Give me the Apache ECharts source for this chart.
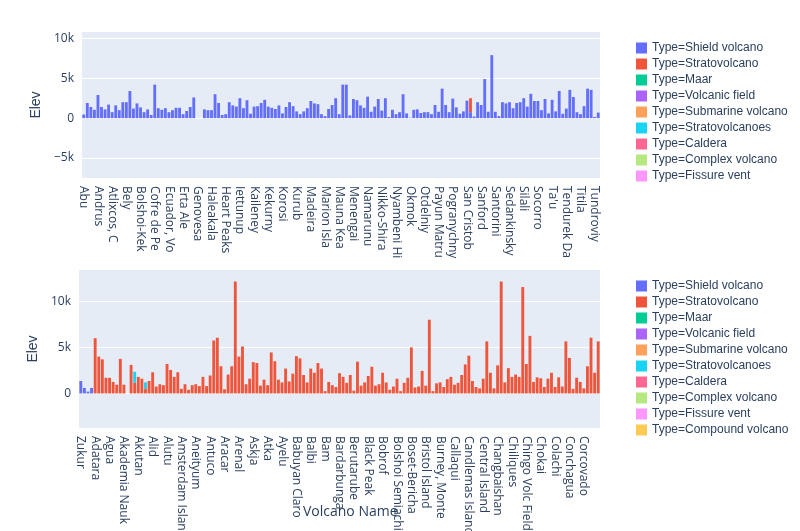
<!DOCTYPE html>
<html><head><meta charset="utf-8">
<script src="https://cdn.jsdelivr.net/npm/echarts@6/dist/echarts.min.js"></script>
<style>html,body{margin:0;padding:0;background:#fff}#c{width:800px;height:531px}</style>
</head><body><div id="c"></div>
<script>
const topLabels = ["Abu","Andrus","Atlixcos, Cerro","Bely","Bolshoi-Kekuknaisky","Cofre de Perote","Ecuador, Volcan","Erta Ale","Genovesa","Haleakala","Heart Peaks","Iettunup","Kaileney","Kekurny","Korosi","Kurub","Madeira","Marion Island","Mauna Kea","Menengai","Namarunu","Nikko-Shirane","Nyambeni Hills","Okmok","Otdelniy","Payun Matru","Pogranychny","San Cristobal","Sanford","Santorini","Sedankinsky","Silali","Socorro","Ta'u","Tendurek Dagi","Titila","Tundroviy"];
const bottomLabels = ["Zukur","Adatara","Agua","Akademia Nauk","Akutan","Alid","Alutu","Amsterdam Island","Aneityum","Antuco","Aracar","Arenal","Askja","Atka","Ayelu","Babuyan Claro","Balbi","Bam","Bardarbunga","Berutarube","Black Peak","Bobrof","Bolshoi Semiachik","Boset-Bericha","Bristol Island","Burney, Monte","Callaqui","Candlemas Island","Central Island","Changbaishan","Chiliques","Chingo Volc Field","Chokai","Colachi","Conchagua","Corcovado"];
const types = ["Shield volcano","Stratovolcano","Maar","Volcanic field","Submarine volcano","Stratovolcanoes","Caldera","Complex volcano","Fissure vent","Compound volcano"];
const colors = ["#636efa","#EF553B","#00cc96","#ab63fa","#FFA15A","#19d3f3","#FF6692","#B6E880","#FF97FF","#FECB52"];
const yTicks = [-5000,0,5000,10000];
const topShield = [450,1900,1400,1050,2900,1400,1100,1700,750,1600,1000,2000,2000,3400,1200,1850,1350,750,1100,400,4200,1250,1050,1250,750,1000,1300,1300,500,900,1400,2600,0,0,1100,1000,1000,3000,1900,400,500,2000,1600,1450,2500,1250,2250,550,1450,1500,1900,2300,1450,1300,1150,1600,600,1400,2000,1500,850,500,850,1250,2150,1850,1750,500,250,1150,1650,2500,500,4200,4200,350,2400,2250,1600,1300,2700,800,1450,2400,950,2500,150,1050,500,750,3000,600,50,1050,1100,650,750,750,500,1650,800,3700,1650,750,2450,1350,550,850,2200,750,200,2000,1650,4900,800,7900,800,250,2000,1850,2000,1250,1900,2000,2500,1450,3050,2150,2150,1000,2400,600,2300,850,3400,550,1200,3550,2650,750,500,1500,3700,3550,150,700];
const topStrato = [[109,1750]];
const bottomShield = [1350,600,200,600];
const bottomStrato = [0,0,0,0,6000,4000,3700,1700,1700,1250,950,3750,950,0,3100,1150,1800,1600,500,1350,2300,750,1000,900,3200,2550,1800,2300,500,1000,400,900,1000,800,1800,800,1950,5750,6050,2950,450,2050,2950,12150,4000,5100,1000,1600,3400,3300,850,1500,900,4450,3500,1500,1200,2700,1300,2150,4050,3800,2000,1200,2700,2250,3300,2700,250,1250,900,700,2200,1800,1150,2000,300,3450,850,1200,1900,2900,850,1000,2250,1200,400,750,1600,250,1150,1700,5000,650,750,2450,850,8000,250,1100,1200,700,1550,1800,950,1150,2000,3150,4100,1350,700,550,1600,5650,2250,550,3050,12150,1200,2750,1800,2050,1800,11550,3200,6250,1250,1750,1650,700,1600,2250,700,1750,750,5650,3850,500,1700,1250,550,2950,6050,2250,5650];
const bottomStratovolcanoes = [[15,1200],[18,700]];

function cats(labels, n){const out=[];for(let i=0;i<n;i++){const b=labels[Math.floor(i/4)];out.push(i%4===0&&b!==undefined?b:'\u200b'.repeat(i+1));}return out;}
const topCats = cats(topLabels, topShield.length);
const botCats = cats(bottomLabels, bottomStrato.length);
function sparse(pairs,n){const a=new Array(n).fill(0);pairs.forEach(p=>a[p[0]]=p[1]);return a;}
const n1=topShield.length, n2=bottomStrato.length;
const topSeriesData = {0: topShield, 1: sparse(topStrato,n1)};
const botSeriesData = {0: bottomShield.concat(new Array(n2-bottomShield.length).fill(0)), 1: bottomStrato, 5: sparse(bottomStratovolcanoes,n2)};

const series=[];
function addSeries(dataMap,nTypes,gi){
  series.push({type:'line',xAxisIndex:gi,yAxisIndex:gi,data:[],z:1,silent:true,
    markLine:{silent:true,symbol:'none',label:{show:false},lineStyle:{color:'#fff',width:1,type:'solid'},
      data:yTicks.map(v=>({yAxis:v}))}});
  for(let t=0;t<nTypes;t++){
    series.push({type:'bar',name:'Type='+types[t]+(gi?'\u200b':''),xAxisIndex:gi,yAxisIndex:gi,stack:'s'+gi,barCategoryGap:'20%',z:5,
      itemStyle:{color:colors[t]},data:dataMap[t]||[]});
  }
}
addSeries(topSeriesData,9,0);
addSeries(botSeriesData,10,1);

const axisLabel={color:'#2a3f5f',fontSize:12,fontFamily:'Open Sans, Arial',rotate:-90,interval:3};
const yLab={color:'#2a3f5f',fontSize:12,fontFamily:'Open Sans, Arial',
  formatter:v=>(v%5000!==0)?'':(v===0?'0':(v<0?'−':'')+Math.abs(v/1000)+'k')};
const chart=echarts.init(document.getElementById('c'));
chart.setOption({
  animation:false,
  title:{text:'Volcano Name',left:298,top:500,textStyle:{color:'#2a3f5f',fontSize:14,fontWeight:'normal',fontFamily:'Open Sans, Arial'},z:10},
  grid:[{left:82,right:200,top:32,height:146,backgroundColor:'#E5ECF6',show:true,borderWidth:0,outerBoundsMode:'none'},
        {left:79,right:200,top:270,height:158,backgroundColor:'#E5ECF6',show:true,borderWidth:0,outerBoundsMode:'none'}],
  xAxis:[{type:'category',gridIndex:0,data:topCats,axisLine:{show:false},axisTick:{show:false},axisLabel:{...axisLabel,formatter:v=>v.slice(0,11)}},
         {type:'category',gridIndex:1,data:botCats,axisLine:{show:false},axisTick:{show:false},axisLabel:{...axisLabel}}],
  yAxis:[{type:'value',gridIndex:0,min:-7500,max:10800,interval:2500,axisLabel:{...yLab,showMaxLabel:false},
          splitLine:{show:false},name:'Elev',nameLocation:'middle',nameGap:26,nameTextStyle:{color:'#2a3f5f',fontSize:14}},
         {type:'value',gridIndex:1,min:-3750,max:13400,interval:1250,axisLabel:{...yLab,showMaxLabel:false},
          splitLine:{show:false},name:'Elev',nameLocation:'middle',nameGap:26,nameTextStyle:{color:'#2a3f5f',fontSize:14}}],
  legend:[{orient:'vertical',left:631,top:37,itemGap:4,itemWidth:11,itemHeight:11,icon:'rect',textStyle:{color:'#2a3f5f',fontSize:12},
           data:types.slice(0,9).map(t=>'Type='+t)},
          {orient:'vertical',left:631,top:275,itemGap:4,itemWidth:11,itemHeight:11,icon:'rect',textStyle:{color:'#2a3f5f',fontSize:12},
           data:types.map(t=>'Type='+t+'\u200b'),formatter:n=>n.replace(/\u200b/g,'')}],
  series:series
});
</script></body></html>
